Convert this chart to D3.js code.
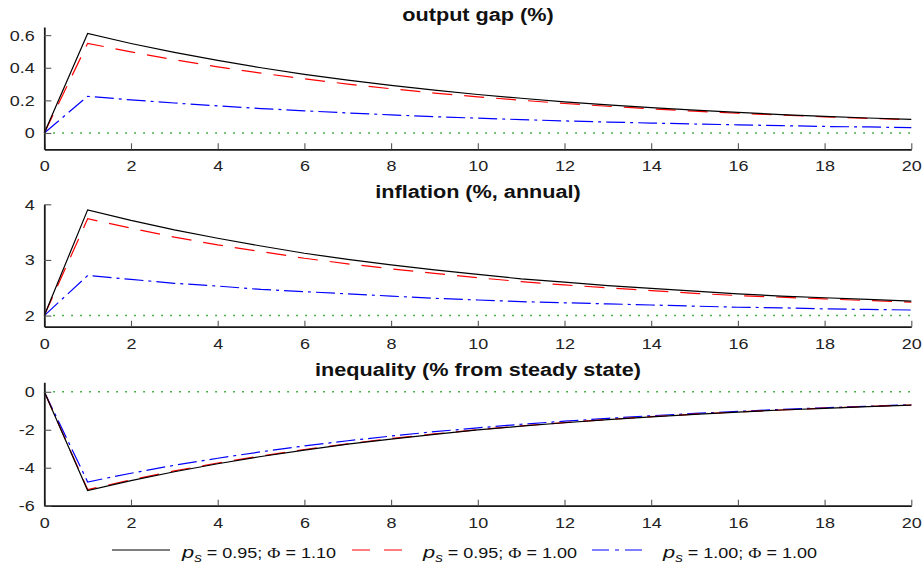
<!DOCTYPE html>
<html>
<head>
<meta charset="utf-8">
<script src="https://cdn.jsdelivr.net/npm/d3@7"></script>
<style>
  body { margin: 0; background: #fff; }
  text { font-family: "Liberation Sans", Arial, sans-serif; }
</style>
</head>
<body>
<script>
var WIDTH = 923,
    HEIGHT = 565;

// horizons 0..20
var periods = d3.range(0, 21);

// output gap (%)
var gapA = [0, 0.61, 0.549, 0.494, 0.445, 0.400, 0.360, 0.324, 0.292, 0.263, 0.236, 0.213, 0.191, 0.172, 0.155, 0.140, 0.126, 0.113, 0.102, 0.092, 0.083];
var gapB = [0, 0.55, 0.497, 0.449, 0.406, 0.367, 0.332, 0.300, 0.271, 0.245, 0.222, 0.201, 0.181, 0.164, 0.148, 0.134, 0.121, 0.110, 0.099, 0.090, 0.081];
var gapC = [0, 0.225, 0.203, 0.184, 0.166, 0.150, 0.136, 0.123, 0.111, 0.100, 0.091, 0.082, 0.074, 0.067, 0.061, 0.055, 0.050, 0.045, 0.040, 0.037, 0.033];

// inflation (%, annual)
var infA = [2, 3.90, 3.71, 3.54, 3.39, 3.25, 3.12, 3.01, 2.91, 2.82, 2.74, 2.66, 2.60, 2.54, 2.49, 2.44, 2.39, 2.35, 2.32, 2.29, 2.26];
var infB = [2, 3.74, 3.57, 3.41, 3.27, 3.15, 3.03, 2.93, 2.84, 2.76, 2.68, 2.61, 2.55, 2.50, 2.45, 2.40, 2.36, 2.33, 2.30, 2.27, 2.24];
var infC = [2, 2.72, 2.65, 2.58, 2.53, 2.47, 2.43, 2.39, 2.35, 2.31, 2.28, 2.25, 2.23, 2.21, 2.19, 2.17, 2.15, 2.14, 2.12, 2.11, 2.10];

// inequality (% from steady state)
var ineA = [0, -5.20, -4.68, -4.21, -3.79, -3.41, -3.07, -2.76, -2.49, -2.24, -2.01, -1.81, -1.63, -1.47, -1.32, -1.19, -1.07, -0.96, -0.87, -0.78, -0.70];
var ineB = [0, -5.15, -4.64, -4.17, -3.75, -3.38, -3.04, -2.74, -2.46, -2.22, -2.00, -1.80, -1.62, -1.46, -1.31, -1.18, -1.06, -0.96, -0.86, -0.77, -0.70];
var ineC = [0, -4.75, -4.29, -3.87, -3.50, -3.16, -2.85, -2.58, -2.33, -2.10, -1.90, -1.71, -1.55, -1.40, -1.26, -1.14, -1.03, -0.93, -0.84, -0.76, -0.68];

var xTicks = [0, 2, 4, 6, 8, 10, 12, 14, 16, 18, 20];

var panels = [
  { title: "output gap (%)", series: [gapA, gapB, gapC], base: 0,
    domain: [-0.1, 0.65], ticks: [0, 0.2, 0.4, 0.6], top: 27, bottom: 149.3 },
  { title: "inflation (%, annual)", series: [infA, infB, infC], base: 2,
    domain: [1.8, 4], ticks: [2, 3, 4], top: 204.3, bottom: 326.7 },
  { title: "inequality (% from steady state)", series: [ineA, ineB, ineC], base: 0,
    domain: [-6, 0.5], ticks: [-6, -4, -2, 0], top: 382.3, bottom: 505.7 }
];

var styles = [
  { color: "#000", dash: null, legDash: null },
  { color: "#ff0000", dash: "20,12", legDash: "18,14" },
  { color: "#0000ff", dash: "19,5,3,5", legDash: "17,6,4,6" }
];

var legendVals = [["0.95", "1.10"], ["0.95", "1.00"], ["1.00", "1.00"]];
var legendPos = [
  { line: [112, 170], text: 182 },
  { line: [352, 404], text: 423 },
  { line: [592, 648], text: 663 }
];

// the original figure was stretched sideways, so its text is too
var SX = 1.16;

var svg = d3.select("body").append("svg")
    .attr("width", WIDTH)
    .attr("height", HEIGHT);

var x = d3.scaleLinear().domain([0, 20]).range([44.3, 911.3]);

// squeeze/stretch a text to a given width, anchored at its centre or start
function fitText(sel, cx, cy, w, anchor) {
  var n = sel.node();
  var k = w / n.getComputedTextLength();
  sel.attr("text-anchor", anchor)
    .attr("transform", "translate(" + cx + "," + cy + ") scale(" + k + ",1)");
}

panels.forEach(function(p) {
  var y = d3.scaleLinear().domain(p.domain).range([p.bottom, p.top]);
  var g = svg.append("g");

  var line = d3.line()
    .x(function(d, i) { return x(periods[i]); })
    .y(function(d) { return y(d); });

  // steady-state reference
  g.append("line")
    .attr("x1", x(0)).attr("x2", x(20))
    .attr("y1", y(p.base)).attr("y2", y(p.base))
    .attr("stroke", "#119911")
    .attr("stroke-width", 1.5)
    .attr("stroke-dasharray", "1.5,7.5");

  // draw order: blue, red, black on top
  [2, 1, 0].forEach(function(k) {
    g.append("path")
      .datum(p.series[k])
      .attr("d", line)
      .attr("fill", "none")
      .attr("stroke", styles[k].color)
      .attr("stroke-width", 1.2)
      .attr("stroke-dasharray", styles[k].dash);
  });

  var fmt = function(d) { return String(d); };
  var xAxis = d3.axisBottom(x).tickValues(xTicks).tickFormat(fmt).tickSize(-6).tickPadding(11).tickSizeOuter(0);
  var yAxis = d3.axisLeft(y).tickValues(p.ticks).tickFormat(fmt).tickSize(-7).tickPadding(9.5).tickSizeOuter(0);

  var xa = g.append("g").attr("transform", "translate(0," + p.bottom + ")").call(xAxis);
  var ya = g.append("g").attr("transform", "translate(" + x(0) + ",0)").call(yAxis);

  [xa, ya].forEach(function(a) {
    a.select(".domain").attr("stroke", "#1a1a1a").attr("stroke-width", 1.8);
    a.selectAll(".tick line").attr("stroke", "#555").attr("stroke-width", 1.1);
    a.selectAll(".tick text")
      .attr("font-family", "'Liberation Sans', Arial, sans-serif")
      .attr("font-size", 15.5).attr("fill", "#222")
      .attr("x", function() { return (+d3.select(this).attr("x") || 0) / SX; })
      .attr("transform", "scale(" + SX + ",1)");
  });

  var t = g.append("text")
    .attr("font-weight", "bold")
    .attr("font-size", 19)
    .attr("fill", "#111")
    .text(p.title);
  var nat = t.node().getComputedTextLength();
  fitText(t, 478, p.top - 6, nat * 1.14, "middle");
});

// legend
var lg = svg.append("g");
legendPos.forEach(function(l, k) {
  lg.append("line")
    .attr("x1", l.line[0]).attr("x2", l.line[1])
    .attr("y1", 550).attr("y2", 550)
    .attr("stroke", styles[k].color)
    .attr("stroke-width", 1)
    .attr("stroke-dasharray", styles[k].legDash);

  var t = lg.append("text")
    .attr("font-size", 14).attr("fill", "#111");
  t.append("tspan").attr("font-style", "italic").attr("font-size", 17).text("p");
  t.append("tspan").attr("font-style", "italic").attr("font-size", 12).attr("dy", 4).text("s");
  t.append("tspan").attr("dy", -4).text(" = " + legendVals[k][0] + "; ");
  t.append("tspan").attr("font-family", "'Liberation Serif', 'Times New Roman', serif").text("\u03A6");
  t.append("tspan").text(" = " + legendVals[k][1]);
  fitText(t, l.text, 557.5, 154, "start");
});
</script>
</body>
</html>
